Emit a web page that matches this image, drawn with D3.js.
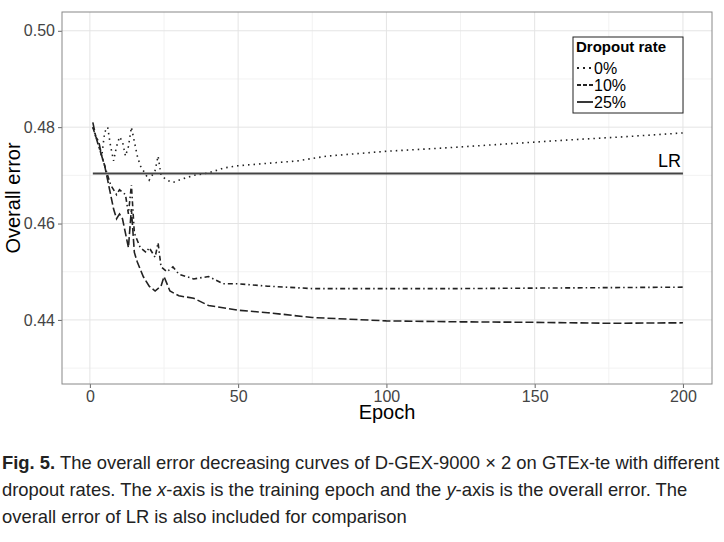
<!DOCTYPE html>
<html><head><meta charset="utf-8">
<script src="https://cdn.jsdelivr.net/npm/d3@7"></script>
<style>
body{margin:0;background:#fff;font-family:"Liberation Sans",Arial,sans-serif}
.cap{position:absolute;left:2px;top:449px;width:722px;font-size:18.4px;line-height:27px;color:#222}
</style></head><body>
<div id="chart"></div>
<div class="cap"><b>Fig. 5.</b> The overall error decreasing curves of D-GEX-9000 × 2 on GTEx-te with different dropout rates. The <i>x</i>-axis is the training epoch and the <i>y</i>-axis is the overall error. The overall error of LR is also included for comparison</div>
<script>
const xTicks = [0, 50, 100, 150, 200]
const yTicks = [0.44, 0.46, 0.48, 0.50]
const lrError = 0.4704

const ep0 = [1,2,3,4,5,6,7,8,9,10,11,12,13,14,15,16,17,18,19,20,22,23,24,26,28,30,35,40,45,50,60,70,80,90,100,120,140,160,180,200]
const err0 = [0.480,0.478,0.476,0.474,0.479,0.480,0.476,0.473,0.476,0.478,0.477,0.474,0.476,0.480,0.477,0.474,0.472,0.471,0.470,0.469,0.471,0.474,0.470,0.469,0.4685,0.469,0.470,0.4705,0.4715,0.472,0.4725,0.473,0.474,0.4745,0.475,0.4757,0.4765,0.4773,0.478,0.4788]

const ep10 = [1,3,5,7,9,10,12,13,14,15,17,19,20,22,23,24,26,28,30,35,40,45,50,60,75,100,125,150,175,200]
const err10 = [0.480,0.476,0.472,0.468,0.466,0.467,0.466,0.462,0.468,0.458,0.455,0.454,0.455,0.453,0.456,0.451,0.450,0.451,0.4495,0.4485,0.449,0.4475,0.4475,0.447,0.4465,0.4465,0.4465,0.4466,0.4467,0.4468]

const ep25 = [1,2,3,4,5,6,7,8,9,10,11,12,13,14,15,16,18,20,22,24,25,27,30,35,40,50,60,75,100,125,150,175,200]
const err25 = [0.481,0.478,0.477,0.474,0.472,0.469,0.466,0.463,0.461,0.462,0.461,0.458,0.455,0.463,0.454,0.452,0.449,0.447,0.446,0.447,0.449,0.446,0.445,0.4445,0.443,0.442,0.4415,0.4405,0.4398,0.4396,0.4395,0.4393,0.4394]

const seriesNames = ['0%', '10%', '25%']
const dashes = ['1.5,4', '5,3,1.5,3', '8,3']
const seriesData = [[ep0, err0], [ep10, err10], [ep25, err25]]

const W = 724, H = 542
const L = 62, R = 712, T = 12, B = 384
const svg = d3.select('#chart').append('svg').attr('width', W).attr('height', H)
const x = d3.scaleLinear().domain([-9.4, 209.8]).range([L, R])
const y = d3.scaleLinear().domain([0.4267, 0.5039]).range([B, T])

const g = svg.append('g')
;[25, 75, 125, 175].forEach(v => g.append('line').attr('x1', x(v)).attr('x2', x(v)).attr('y1', T).attr('y2', B).attr('stroke', '#f2f2f2'))
;[0.43, 0.45, 0.47, 0.49].forEach(v => g.append('line').attr('x1', L).attr('x2', R).attr('y1', y(v)).attr('y2', y(v)).attr('stroke', '#f2f2f2'))
xTicks.forEach(v => g.append('line').attr('x1', x(v)).attr('x2', x(v)).attr('y1', T).attr('y2', B).attr('stroke', '#e4e4e4'))
yTicks.forEach(v => g.append('line').attr('x1', L).attr('x2', R).attr('y1', y(v)).attr('y2', y(v)).attr('stroke', '#e4e4e4'))

svg.append('g').attr('transform', `translate(0,${B})`)
  .call(d3.axisBottom(x).tickValues(xTicks).tickSize(4).tickPadding(3))
  .call(a => a.select('.domain').remove())
  .selectAll('text').style('font-size', '16px').attr('fill', '#444')
svg.append('g').attr('transform', `translate(${L},0)`)
  .call(d3.axisLeft(y).tickValues(yTicks).tickFormat(d3.format('.2f')).tickSize(4).tickPadding(3))
  .call(a => a.select('.domain').remove())
  .selectAll('text').style('font-size', '16px').attr('fill', '#444')
svg.selectAll('.tick line').attr('stroke', '#666')
svg.append('rect').attr('x', L).attr('y', T).attr('width', R - L).attr('height', B - T).attr('fill', 'none').attr('stroke', '#888')

const line = d3.line().x(d => x(d[0])).y(d => y(d[1]))
seriesData.forEach((s, i) => {
  svg.append('path').datum(s[0].map((e, j) => [e, s[1][j]]))
    .attr('d', line).attr('fill', 'none').attr('stroke', '#222').attr('stroke-width', 1.6)
    .attr('stroke-dasharray', dashes[i])
})
svg.append('line').attr('x1', x(1)).attr('x2', x(200)).attr('y1', y(lrError)).attr('y2', y(lrError))
  .attr('stroke', '#444').attr('stroke-width', 2)
svg.append('text').attr('x', x(200) - 2).attr('y', y(lrError) - 6).attr('text-anchor', 'end')
  .style('font-size', '18px').text('LR')

svg.append('text').attr('x', (L + R) / 2).attr('y', 419).attr('text-anchor', 'middle').style('font-size', '20px').text('Epoch')
svg.append('text').attr('transform', `translate(20,${(T + B) / 2}) rotate(-90)`).attr('text-anchor', 'middle').style('font-size', '20px').text('Overall error')

const lg = svg.append('g').attr('transform', 'translate(573,37)')
lg.append('rect').attr('width', 110).attr('height', 76).attr('fill', '#fff').attr('stroke', '#222')
lg.append('text').attr('x', 3).attr('y', 15).style('font-size', '15px').style('font-weight', 'bold').text('Dropout rate')
seriesNames.forEach((n, i) => {
  const yy = 31 + i * 17
  lg.append('line').attr('x1', 4).attr('x2', 20).attr('y1', yy).attr('y2', yy)
    .attr('stroke', '#222').attr('stroke-width', 1.8).attr('stroke-dasharray', ['2,4', '4,2', 'none'][i])
  lg.append('text').attr('x', 21).attr('y', yy + 6).style('font-size', '16px').text(n)
})
</script></body></html>
